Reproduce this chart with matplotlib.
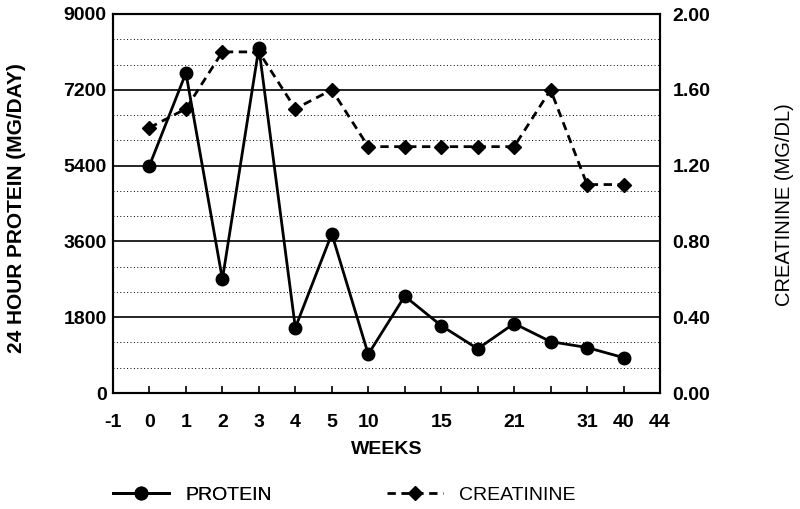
import matplotlib.pyplot as plt
from matplotlib.ticker import MultipleLocator

plt.rcParams['font.family'] = ['Liberation Sans', 'DejaVu Sans']

# category slots along the x axis (0 = left edge, 15 = right edge)
tick_labels = ["-1", "0", "1", "2", "3", "4", "5", "10", "", "15", "", "21", "", "31", "40", "44"]
slots = list(range(1, 15))

protein = [5400, 7600, 2700, 8200, 1550, 3780, 920, 2300, 1600, 1050, 1650, 1220, 1080, 840]
creatinine = [1.40, 1.50, 1.80, 1.80, 1.50, 1.60, 1.30, 1.30, 1.30, 1.30, 1.30, 1.60, 1.10, 1.10]

W, H = 800, 509
fig = plt.figure(figsize=(W / 100, H / 100), dpi=100)
ax = fig.add_axes([113 / W, 1 - 393 / H, (660 - 113) / W, (393 - 14) / H])
ax2 = ax.twinx()

# grid: solid majors, two dotted lines between each pair
ax.set_ylim(0, 9000)
ax.set_xlim(0, 15)
ax.yaxis.set_major_locator(MultipleLocator(1800))
ax.yaxis.set_minor_locator(MultipleLocator(600))
ax.grid(axis="y", which="major", color="black", linewidth=1.2)
ax.grid(axis="y", which="minor", color="black", linestyle=(0, (1, 2.5)), linewidth=0.7)
ax.set_axisbelow(True)

p_line, = ax.plot(slots, protein, color="black", linewidth=2, marker="o", markersize=9,
                  label="PROTEIN", zorder=3)
c_line, = ax2.plot(slots, creatinine, color="black", linewidth=2, linestyle=(0, (3, 2)),
                   marker="D", markersize=7, label="CREATININE", zorder=3)
ax2.set_ylim(0, 2.0)
ax2.set_yticks([0, 0.4, 0.8, 1.2, 1.6, 2.0])
ax2.set_yticklabels(["0.00", "0.40", "0.80", "1.20", "1.60", "2.00"])

ax.set_xticks(range(16))
ax.set_xticklabels(tick_labels)
ax.set_yticks([0, 1800, 3600, 5400, 7200, 9000])

fs = 14
for a in (ax, ax2):
    for s in a.spines.values():
        s.set_linewidth(1.5)
ax.tick_params(axis="x", direction="in", length=5, width=1.2, pad=15, labelsize=fs)
ax.tick_params(axis="y", which="both", length=0, pad=4.5, labelsize=fs)
ax2.tick_params(axis="y", length=0, pad=9, labelsize=fs)
for lbl in ax.get_xticklabels() + ax.get_yticklabels() + ax2.get_yticklabels():
    lbl.set_fontweight("bold")

fig.text(387 / W, 1 - 450 / H, "WEEKS", fontsize=fs, fontweight="bold",
         ha="center", va="center")
fig.text(17 / W, 1 - 208 / H, "24 HOUR PROTEIN (MG/DAY)", rotation=90, fontsize=15,
         fontweight="bold", ha="center", va="center")
fig.text(784 / W, 1 - 205 / H, "CREATININE (MG/DL)", rotation=90, fontsize=14.5,
         ha="center", va="center")

leg_kw = dict(frameon=False, fontsize=fs, handlelength=2.9, handletextpad=0.8,
              borderpad=0, borderaxespad=0, loc="center left")
leg1 = fig.legend(handles=[p_line], bbox_to_anchor=(113 / W, 1 - 495 / H), **leg_kw)
fig.add_artist(leg1)
fig.legend(handles=[c_line], bbox_to_anchor=(387 / W, 1 - 495 / H), **leg_kw)

fig.savefig("out.png", dpi=100)
